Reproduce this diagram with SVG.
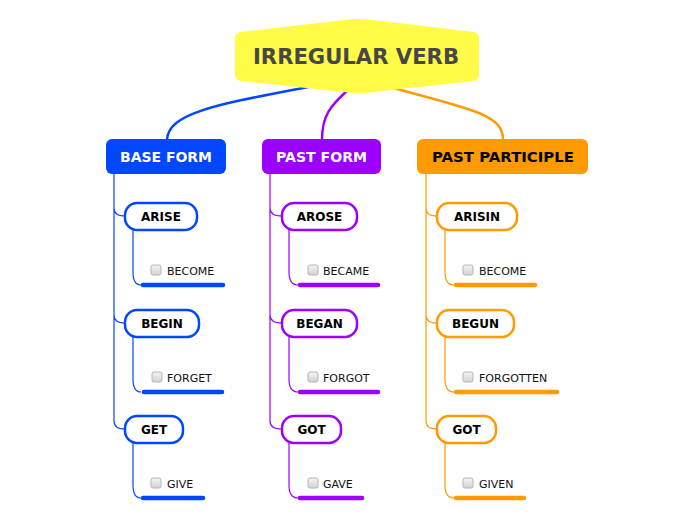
<svg xmlns="http://www.w3.org/2000/svg" width="696" height="520" viewBox="0 0 696 520">
<defs>
<linearGradient id="cb" x1="0" y1="0" x2="0" y2="1">
<stop offset="0" stop-color="#f4f4f4"/>
<stop offset="1" stop-color="#d2d2d2"/>
</linearGradient>
<style>
.t{font-family:"DejaVu Sans",Verdana,sans-serif;text-anchor:middle}
.main{font-size:21px;font-weight:bold;fill:#474747}
.top{font-size:14px;font-weight:bold}
.ch{font-size:12px;font-weight:bold;fill:#000}
.sub{font-family:"DejaVu Sans",Verdana,sans-serif;font-size:11px;fill:#111}
.box{fill:url(#cb);stroke:#b5b5b5;stroke-width:1}
.thin{fill:none;stroke-width:1.2}
.b{stroke:#0047FF}
.p{stroke:#9C00FF}
.o{stroke:#FF9A00}
.cn{fill:#fff;stroke-width:2.5}
.ul{stroke-width:4.5;stroke-linecap:round;fill:none}
</style>
</defs>
<rect width="696" height="520" fill="#fff"/>
<g id="connectors">
<path d="M313,86 C220,104 168,112 167,140" fill="none" stroke="#0047FF" stroke-width="2.5"/>
<path d="M348,90 C330,106 322,116 322,140" fill="none" stroke="#9C00FF" stroke-width="2.5"/>
<path d="M393,88 C475,110 503,115 503,140" fill="none" stroke="#FF9A00" stroke-width="2.5"/>
<path class="thin b" d="M114,174 V421 Q114,429 125,429 M114,208 Q114,216 125,216 M114,315 Q114,323 125,323"/>
<path class="thin p" d="M270,174 V421 Q270,429 282,429 M270,208 Q270,216 282,216 M270,315 Q270,323 282,323"/>
<path class="thin o" d="M426,174 V421 Q426,429 437,429 M426,208 Q426,216 437,216 M426,315 Q426,323 437,323"/>
<path class="thin b" d="M133,230 V272 Q133,285 141,285 M133,337 V379 Q133,392 141,392 M133,443 V485 Q133,498 141,498"/>
<path class="thin p" d="M289,230 V272 Q289,285 298,285 M289,337 V379 Q289,392 298,392 M289,443 V485 Q289,498 298,498"/>
<path class="thin o" d="M445,230 V272 Q445,285 454,285 M445,337 V379 Q445,392 454,392 M445,443 V485 Q445,498 454,498"/>
</g>
<g id="root">
<path d="M241,32 L353,19 L364,19 L474,32 Q479,33 479,38 L479,75 Q479,80 474,81 L364,93 L353,93 L241,81 Q235,80 235,75 L235,38 Q235,33 241,32 Z" fill="#FFFB47"/>
<text class="t main" x="356" y="64" textLength="206" lengthAdjust="spacingAndGlyphs">IRREGULAR VERB</text>
</g>
<g id="base-form">
<rect x="106" y="139" width="120" height="35" rx="6" fill="#0047FF"/>
<text class="t top" x="166" y="162" fill="#fff" textLength="92" lengthAdjust="spacingAndGlyphs">BASE FORM</text>
</g>
<g id="past-form">
<rect x="262" y="139" width="119" height="35" rx="6" fill="#9C00FF"/>
<text class="t top" x="321.5" y="162" fill="#fff" textLength="91" lengthAdjust="spacingAndGlyphs">PAST FORM</text>
</g>
<g id="past-participle">
<rect x="417" y="139" width="171" height="35" rx="6" fill="#FF9A00"/>
<text class="t top" x="503" y="162" fill="#000" textLength="142" lengthAdjust="spacingAndGlyphs">PAST PARTICIPLE</text>
</g>
<g id="arise"><rect class="cn b" x="125" y="203" width="72" height="27" rx="12"/><text class="t ch" x="161" y="221">ARISE</text></g>
<g id="begin"><rect class="cn b" x="125" y="310" width="74" height="27" rx="12"/><text class="t ch" x="162" y="328">BEGIN</text></g>
<g id="get"><rect class="cn b" x="125" y="416" width="58" height="27" rx="12"/><text class="t ch" x="154" y="434">GET</text></g>
<g id="arose"><rect class="cn p" x="282" y="203" width="75" height="27" rx="12"/><text class="t ch" x="319.5" y="221">AROSE</text></g>
<g id="began"><rect class="cn p" x="282" y="310" width="75" height="27" rx="12"/><text class="t ch" x="319.5" y="328">BEGAN</text></g>
<g id="got1"><rect class="cn p" x="282" y="416" width="59" height="27" rx="12"/><text class="t ch" x="311.5" y="434">GOT</text></g>
<g id="arisin"><rect class="cn o" x="437" y="203" width="80" height="27" rx="12"/><text class="t ch" x="477" y="221">ARISIN</text></g>
<g id="begun"><rect class="cn o" x="437" y="310" width="77" height="27" rx="12"/><text class="t ch" x="475.5" y="328">BEGUN</text></g>
<g id="got2"><rect class="cn o" x="437" y="416" width="59" height="27" rx="12"/><text class="t ch" x="466.5" y="434">GOT</text></g>
<g id="become1"><rect class="box" x="151" y="265" width="10" height="10" rx="2"/><text class="sub" x="167" y="275">BECOME</text><path class="ul b" d="M143,285 H223"/></g>
<g id="forget"><rect class="box" x="152" y="372" width="10" height="10" rx="2"/><text class="sub" x="167" y="382">FORGET</text><path class="ul b" d="M144,392 H222"/></g>
<g id="give"><rect class="box" x="151" y="478" width="10" height="10" rx="2"/><text class="sub" x="167" y="488">GIVE</text><path class="ul b" d="M143,498 H203"/></g>
<g id="became"><rect class="box" x="308" y="265" width="10" height="10" rx="2"/><text class="sub" x="323" y="275">BECAME</text><path class="ul p" d="M300,285 H378"/></g>
<g id="forgot"><rect class="box" x="308" y="372" width="10" height="10" rx="2"/><text class="sub" x="323" y="382">FORGOT</text><path class="ul p" d="M300,392 H378"/></g>
<g id="gave"><rect class="box" x="308" y="478" width="10" height="10" rx="2"/><text class="sub" x="323" y="488">GAVE</text><path class="ul p" d="M300,498 H362"/></g>
<g id="become2"><rect class="box" x="463" y="265" width="10" height="10" rx="2"/><text class="sub" x="479" y="275">BECOME</text><path class="ul o" d="M456,285 H535"/></g>
<g id="forgotten"><rect class="box" x="463" y="372" width="10" height="10" rx="2"/><text class="sub" x="479" y="382">FORGOTTEN</text><path class="ul o" d="M456,392 H557"/></g>
<g id="given"><rect class="box" x="463" y="478" width="10" height="10" rx="2"/><text class="sub" x="479" y="488">GIVEN</text><path class="ul o" d="M456,498 H524"/></g>
</svg>
